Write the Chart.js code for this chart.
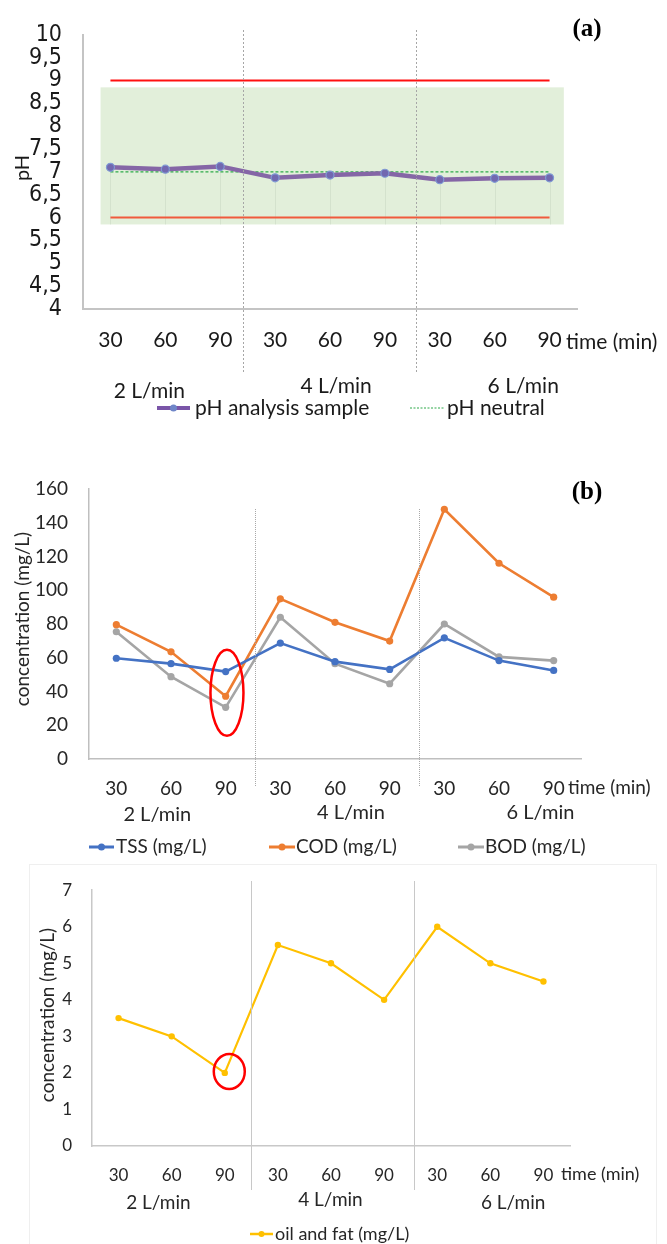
<!DOCTYPE html>
<html>
<head>
<meta charset="utf-8">
<script src="https://cdn.jsdelivr.net/npm/chart.js@4.4.1/dist/chart.umd.min.js"></script>
<style>
  html, body { margin: 0; padding: 0; background: #ffffff; }
  body { width: 667px; height: 1244px; position: relative; overflow: hidden; }
  .panel { position: absolute; left: 0; width: 667px; }
  #frameC { position: absolute; left: 29px; top: 864px; width: 626px; height: 400px; border: 1px solid #efefef; }
</style>
</head>
<body>
<div id="frameC"></div>
<div class="panel" style="top:0;height:430px"><canvas id="chartA"></canvas></div>
<div class="panel" style="top:450px;height:410px"><canvas id="chartB"></canvas></div>
<div class="panel" style="top:860px;height:384px"><canvas id="chartC"></canvas></div>

<script>
// Sampling times within each flow-rate run
const sampleTimes = ['30', '60', '90', '30', '60', '90', '30', '60', '90'];
const flowRates = ['2 L/min', '4 L/min', '6 L/min'];

// (a) pH
const phSample = [7.10, 7.06, 7.12, 6.87, 6.93, 6.97, 6.83, 6.86, 6.87];
const phNeutral = [7, 7, 7, 7, 7, 7, 7, 7, 7];
const phUpperLimit = [9, 9, 9, 9, 9, 9, 9, 9, 9];
const phLowerLimit = [6, 6, 6, 6, 6, 6, 6, 6, 6];
const phBand = [5.85, 8.85];
const phTickLabels = ['4', '4,5', '5', '5,5', '6', '6,5', '7', '7,5', '8', '8,5', '9', '9,5', '10'];

// (b) TSS / COD / BOD
const tss = [59.7, 56.5, 51.8, 68.7, 57.7, 53.1, 71.8, 58.3, 52.5];
const cod = [79.6, 63.5, 37.2, 94.9, 81.0, 69.9, 148.0, 116.0, 95.9];
const bod = [75.4, 48.8, 30.6, 84.0, 56.5, 44.6, 80.0, 60.5, 58.3];
const concTickLabels = ['0', '20', '40', '60', '80', '100', '120', '140', '160'];

// (c) oil and fat
const oilFat = [3.5, 3.0, 2.0, 5.5, 5.0, 4.0, 6.0, 5.0, 4.5];
const oilTickLabels = ['0', '1', '2', '3', '4', '5', '6', '7'];

const SANS = 'Lato, "Open Sans", sans-serif';
const NARROW = '"Liberation Sans Narrow", "DejaVu Sans Condensed", Lato, sans-serif';
const SERIF = '"Liberation Serif", "Times New Roman", serif';

function drawText(ctx, str, x, y, font, color, align, rotate) {
  ctx.save();
  ctx.font = font;
  ctx.fillStyle = color;
  ctx.textAlign = align || 'center';
  ctx.textBaseline = 'middle';
  ctx.translate(x, y);
  if (rotate) ctx.rotate(rotate);
  ctx.fillText(str, 0, 0);
  ctx.restore();
}

function vLine(ctx, x, y0, y1, color, dash, width) {
  ctx.save();
  ctx.strokeStyle = color;
  ctx.lineWidth = width || 1;
  ctx.setLineDash(dash || []);
  ctx.beginPath();
  ctx.moveTo(Math.round(x) + 0.5, y0);
  ctx.lineTo(Math.round(x) + 0.5, y1);
  ctx.stroke();
  ctx.restore();
}

function legendItem(ctx, item) {
  ctx.save();
  ctx.strokeStyle = item.color;
  ctx.lineWidth = item.width;
  ctx.setLineDash(item.dash || []);
  ctx.beginPath();
  ctx.moveTo(item.x0, item.y);
  ctx.lineTo(item.x1, item.y);
  ctx.stroke();
  ctx.setLineDash([]);
  if (item.marker) {
    ctx.fillStyle = item.marker;
    ctx.beginPath();
    ctx.arc((item.x0 + item.x1) / 2, item.y, item.r || 3.5, 0, Math.PI * 2);
    ctx.fill();
  }
  ctx.restore();
  drawText(ctx, item.label, item.tx, item.y, item.font, item.textColor, 'left');
}

function ringAround(ctx, cx, cy, rx, ry) {
  ctx.save();
  ctx.strokeStyle = '#ff0000';
  ctx.lineWidth = 2.5;
  ctx.beginPath();
  ctx.ellipse(cx, cy, rx, ry, 0, 0, Math.PI * 2);
  ctx.stroke();
  ctx.restore();
}

function baseOptions(cfg) {
  return {
    responsive: true,
    maintainAspectRatio: false,
    animation: false,
    devicePixelRatio: 1,
    layout: { padding: cfg.padding },
    plugins: { legend: { display: false }, tooltip: { enabled: false } },
    elements: { line: { tension: 0 } },
    scales: {
      x: {
        type: 'category',
        offset: true,
        grid: { display: false, drawTicks: false },
        border: { display: true, color: cfg.axisColor, width: cfg.axisWidth },
        ticks: { autoSkip: false, maxRotation: 0, padding: cfg.xPad, color: cfg.textColor,
                 font: { family: SANS, size: cfg.xSize } },
        afterFit(s) { s.height = cfg.xHeight; }
      },
      y: {
        min: cfg.yMin, max: cfg.yMax,
        grid: { display: false, drawTicks: false },
        border: { display: true, color: cfg.axisColor, width: cfg.axisWidth },
        ticks: { stepSize: cfg.yStep, autoSkip: false, padding: cfg.yPad, color: cfg.textColor,
                 font: { family: cfg.yFamily || SANS, size: cfg.ySize },
                 callback: (v, i) => cfg.yLabels[i] },
        afterFit(s) { s.width = cfg.yWidth; }
      }
    }
  };
}

// ---------- (a) pH ----------
const decorA = {
  id: 'decorA',
  beforeDatasetsDraw(chart) {
    const { ctx, scales: { x, y } } = chart;
    ctx.save();
    ctx.fillStyle = '#e2efda';
    const x0 = x.getPixelForValue(-0.18), x1 = x.getPixelForValue(8.26);
    const y0 = y.getPixelForValue(phBand[1]), y1 = y.getPixelForValue(phBand[0]);
    ctx.fillRect(x0, y0, x1 - x0, y1 - y0);
    // faint drop lines under each sample
    ctx.strokeStyle = 'rgba(200,215,195,0.55)';
    ctx.lineWidth = 1;
    phSample.forEach((v, i) => {
      const px = Math.round(x.getPixelForValue(i)) + 0.5;
      ctx.beginPath();
      ctx.moveTo(px, y.getPixelForValue(v));
      ctx.lineTo(px, y1);
      ctx.stroke();
    });
    ctx.restore();
  },
  afterDraw(chart) {
    const { ctx, scales: { x } } = chart;
    [2.42, 5.56].forEach(v => vLine(ctx, x.getPixelForValue(v), 30, 374, '#a6a6a6', [2, 2], 1));
    const f = '21px ' + SANS;
    drawText(ctx, flowRates[0], x.getPixelForValue(0.71), 391, f, '#1a1a1a');
    drawText(ctx, flowRates[1], x.getPixelForValue(4.11), 386, f, '#1a1a1a');
    drawText(ctx, flowRates[2], x.getPixelForValue(7.52), 386, f, '#1a1a1a');
    drawText(ctx, 'time (min)', 566, 342, '21px ' + SANS, '#1a1a1a', 'left');
    drawText(ctx, 'pH', 23, 168, '20px ' + SANS, '#1a1a1a', 'center', -Math.PI / 2);
    drawText(ctx, '(a)', 587, 30, 'bold 25px ' + SERIF, '#000000');
    legendItem(ctx, { x0: 157, x1: 190, y: 408, color: '#7a55a8', width: 4, marker: '#6f86c8', r: 3.5,
      label: 'pH analysis sample', tx: 195, font: '21px ' + SANS, textColor: '#1a1a1a' });
    legendItem(ctx, { x0: 410, x1: 445, y: 408, color: '#2eaa4a', width: 1.2, dash: [2, 1.5],
      label: 'pH neutral', tx: 447, font: '21px ' + SANS, textColor: '#1a1a1a' });
  }
};

new Chart(document.getElementById('chartA'), {
  type: 'line',
  data: {
    labels: sampleTimes,
    datasets: [
      { label: 'pH analysis sample', data: phSample, borderColor: '#8566a6', borderWidth: 4.5,
        pointRadius: 4, pointBackgroundColor: '#7268b0', pointBorderColor: '#7f9ad4', pointBorderWidth: 1.2 },
      { label: 'pH neutral', data: phNeutral, borderColor: '#2eaa4a', borderWidth: 1.3,
        borderDash: [3, 2], pointRadius: 0 },
      { label: 'upper limit', data: phUpperLimit, borderColor: '#ff1010', borderWidth: 2, pointRadius: 0 },
      { label: 'lower limit', data: phLowerLimit, borderColor: '#f05a3c', borderWidth: 2, pointRadius: 0 }
    ]
  },
  options: baseOptions({
    padding: { top: 30, right: 90, left: 0, bottom: 0 },
    axisColor: '#c4c4c4', axisWidth: 2, textColor: '#1a1a1a',
    xPad: 19, xSize: 21, xHeight: 121,
    yMin: 4, yMax: 10, yStep: 0.5, yLabels: phTickLabels, yPad: 21, ySize: 23, yFamily: NARROW, yWidth: 83
  }),
  plugins: [decorA]
});

// ---------- (b) TSS / COD / BOD ----------
const decorB = {
  id: 'decorB',
  afterDraw(chart) {
    const { ctx, scales: { x, y } } = chart;
    [2.53, 5.53].forEach(v => vLine(ctx, x.getPixelForValue(v), 59, 337, '#a8a8a8', [1, 1], 1));
    const c = '#262626';
    const f = '20px ' + SANS;
    drawText(ctx, flowRates[0], x.getPixelForValue(0.75), 365, f, c);
    drawText(ctx, flowRates[1], x.getPixelForValue(4.29), 363, f, c);
    drawText(ctx, flowRates[2], x.getPixelForValue(7.76), 363, f, c);
    drawText(ctx, 'time (min)', 568, 338, '19px ' + SANS, c, 'left');
    drawText(ctx, 'concentration (mg/L)', 23, 169, '19px ' + SANS, c, 'center', -Math.PI / 2);
    drawText(ctx, '(b)', 587, 43, 'bold 25px ' + SERIF, '#000000');
    ringAround(ctx, x.getPixelForValue(2) + 1.3, y.getPixelForValue(39.2), 16.5, 43);
    const lf = '19px ' + SANS;
    legendItem(ctx, { x0: 89, x1: 114, y: 397, color: '#4472c4', width: 3, marker: '#4472c4',
      label: 'TSS (mg/L)', tx: 116, font: lf, textColor: c });
    legendItem(ctx, { x0: 269, x1: 295, y: 397, color: '#ed7d31', width: 3, marker: '#ed7d31',
      label: 'COD (mg/L)', tx: 296, font: lf, textColor: c });
    legendItem(ctx, { x0: 458, x1: 484, y: 397, color: '#a5a5a5', width: 3, marker: '#a5a5a5',
      label: 'BOD (mg/L)', tx: 485, font: lf, textColor: c });
  }
};

function seriesStyle(color) {
  return { borderColor: color, backgroundColor: color, borderWidth: 2.6,
           pointRadius: 3.6, pointBackgroundColor: color, pointBorderWidth: 0 };
}

new Chart(document.getElementById('chartB'), {
  type: 'line',
  data: {
    labels: sampleTimes,
    datasets: [
      Object.assign({ label: 'TSS (mg/L)', data: tss }, seriesStyle('#4472c4')),
      Object.assign({ label: 'COD (mg/L)', data: cod }, seriesStyle('#ed7d31')),
      Object.assign({ label: 'BOD (mg/L)', data: bod }, seriesStyle('#a5a5a5'))
    ]
  },
  options: baseOptions({
    padding: { top: 39, right: 86, left: 0, bottom: 0 },
    axisColor: '#bfbfbf', axisWidth: 1.5, textColor: '#262626',
    xPad: 18, xSize: 19, xHeight: 101,
    yMin: 0, yMax: 160, yStep: 20, yLabels: concTickLabels, yPad: 21, ySize: 19, yWidth: 89
  }),
  plugins: [decorB]
});

// ---------- (c) oil and fat ----------
const decorC = {
  id: 'decorC',
  afterDraw(chart) {
    const { ctx, scales: { x, y } } = chart;
    [2.5, 5.57].forEach(v => vLine(ctx, x.getPixelForValue(v), 21, 330, '#c8c8c8', [], 1));
    const c = '#262626';
    const f = '19px ' + SANS;
    drawText(ctx, flowRates[0], x.getPixelForValue(0.75), 343, f, c);
    drawText(ctx, flowRates[1], x.getPixelForValue(3.99), 340, f, c);
    drawText(ctx, flowRates[2], x.getPixelForValue(7.43), 343, f, c);
    drawText(ctx, 'time (min)', 561, 314, '18px ' + SANS, c, 'left');
    drawText(ctx, 'concentration (mg/L)', 48, 155, '19px ' + SANS, c, 'center', -Math.PI / 2);
    ringAround(ctx, x.getPixelForValue(2) + 4.5, y.getPixelForValue(2.04), 15.5, 17.5);
    legendItem(ctx, { x0: 250, x1: 273, y: 374, color: '#ffc000', width: 2.5, marker: '#ffc000', r: 3,
      label: 'oil and fat (mg/L)', tx: 275, font: '18px ' + SANS, textColor: c });
  }
};

new Chart(document.getElementById('chartC'), {
  type: 'line',
  data: {
    labels: sampleTimes,
    datasets: [
      { label: 'oil and fat (mg/L)', data: oilFat, borderColor: '#ffc000', backgroundColor: '#ffc000',
        borderWidth: 2.2, pointRadius: 3.2, pointBackgroundColor: '#ffc000', pointBorderWidth: 0 }
    ]
  },
  options: baseOptions({
    padding: { top: 24, right: 97, left: 0, bottom: 0 },
    axisColor: '#c8c8c8', axisWidth: 1.5, textColor: '#262626',
    xPad: 19, xSize: 17, xHeight: 98,
    yMin: 0, yMax: 7, yStep: 1, yLabels: oilTickLabels, yPad: 20, ySize: 17, yWidth: 92
  }),
  plugins: [decorC]
});
</script>
</body>
</html>
